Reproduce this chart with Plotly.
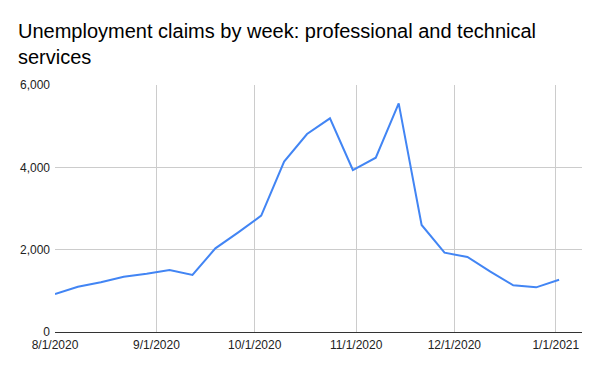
import plotly.graph_objects as go

weeks = ["2020-08-01", "2020-08-08", "2020-08-15", "2020-08-22", "2020-08-29",
         "2020-09-05", "2020-09-12", "2020-09-19", "2020-09-26", "2020-10-03",
         "2020-10-10", "2020-10-17", "2020-10-24", "2020-10-31", "2020-11-07",
         "2020-11-14", "2020-11-21", "2020-11-28", "2020-12-05", "2020-12-12",
         "2020-12-19", "2020-12-26", "2021-01-02"]
claims = [923, 1100, 1207, 1344, 1417, 1506, 1385, 2032, 2421, 2826,
          4138, 4810, 5191, 3935, 4234, 5555, 2599, 1927, 1822, 1466,
          1134, 1085, 1271]

tick_dates = ["2020-08-01", "2020-09-01", "2020-10-01", "2020-11-01", "2020-12-01", "2021-01-01"]
tick_labels = ["8/1/2020", "9/1/2020", "10/1/2020", "11/1/2020", "12/1/2020", "1/1/2021"]
y_ticks = [0, 2000, 4000, 6000]
y_labels = ["0", "2,000", "4,000", "6,000"]

fig = go.Figure()
fig.add_trace(go.Scatter(x=weeks, y=claims, mode="lines",
                         line=dict(color="#4285F4", width=2), showlegend=False))

fig.update_layout(
    width=600, height=371,
    margin=dict(l=55, r=18, t=85, b=39),
    paper_bgcolor="white", plot_bgcolor="white",
    font=dict(family="Liberation Sans, Arial, sans-serif", size=12, color="#222222"),
    title=dict(text="Unemployment claims by week: professional and technical<br>services",
               x=18/600, xanchor="left", xref="container",
               y=1 - 38/371, yanchor="top", yref="container",
               font=dict(size=20, color="#000000")),
)
fig.update_xaxes(type="date", range=["2020-08-01", "2021-01-09"],
                 tickvals=tick_dates, ticktext=tick_labels,
                 showgrid=True, gridcolor="#cccccc", gridwidth=1,
                 showline=False, zeroline=False, ticks="", ticklen=0,
                 ticklabelstandoff=4,
                 tickfont=dict(size=12, color="#222222"))
fig.update_yaxes(range=[0, 6000], tickvals=y_ticks, ticktext=y_labels,
                 showgrid=True, gridcolor="#cccccc", gridwidth=1,
                 zeroline=True, zerolinecolor="#333333", zerolinewidth=1,
                 showline=False, ticks="", ticklen=0,
                 ticklabelstandoff=4,
                 tickfont=dict(size=12, color="#222222"))
fig.write_html("out.html")
